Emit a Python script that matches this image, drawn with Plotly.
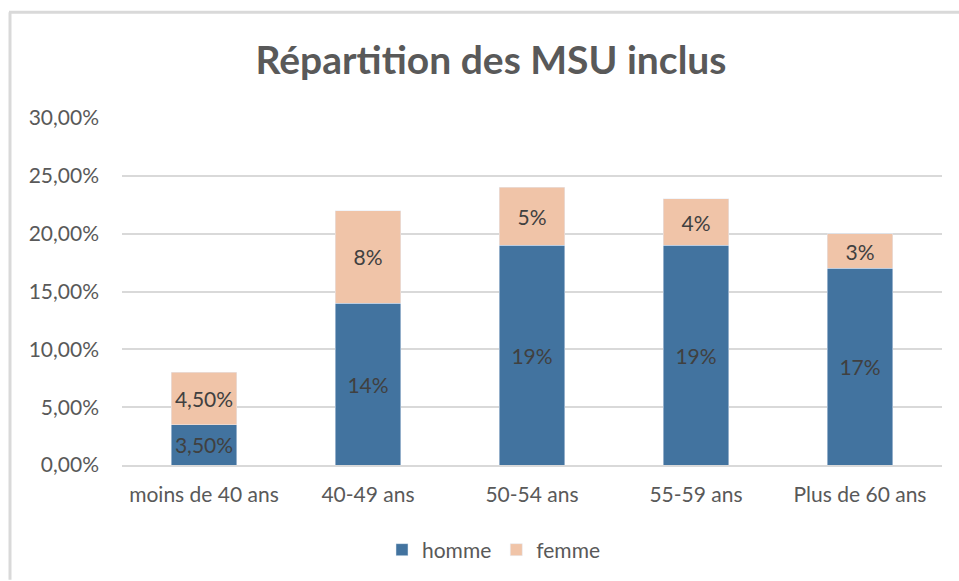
import plotly.graph_objects as go

categories = ["moins de 40 ans", "40-49 ans", "50-54 ans", "55-59 ans", "Plus de 60 ans"]
homme = [0.035, 0.14, 0.19, 0.19, 0.17]
femme = [0.045, 0.08, 0.05, 0.04, 0.03]
homme_labels = ["3,50%", "14%", "19%", "19%", "17%"]
femme_labels = ["4,50%", "8%", "5%", "4%", "3%"]
tick_vals = [0, 0.05, 0.10, 0.15, 0.20, 0.25, 0.30]
tick_text = ["0,00%", "5,00%", "10,00%", "15,00%", "20,00%", "25,00%", "30,00%"]

W, H = 959, 581
L, R, T, B = 122, 17, 118, 115
pw, ph = W - L - R, H - T - B


def px(x):
    return (x - L) / pw


def py(y):
    return (H - B - y) / ph


font = "Lato"
fig = go.Figure()
fig.add_trace(go.Bar(
    x=categories, y=homme, name="homme", text=homme_labels,
    marker=dict(color="#42739F"), textposition="inside",
    insidetextanchor="middle", constraintext="none",
    textfont=dict(size=21, color="#404040", family=font),
))
fig.add_trace(go.Bar(
    x=categories, y=femme, name="femme", text=femme_labels,
    marker=dict(color="#F0C4A8"), textposition="inside",
    insidetextanchor="middle", constraintext="none",
    textfont=dict(size=21, color="#404040", family=font),
))

fig.update_layout(
    barmode="stack",
    bargap=0.6,
    width=W, height=H,
    margin=dict(l=L, r=R, t=T, b=B),
    paper_bgcolor="white", plot_bgcolor="white",
    font=dict(family=font, color="#595959", size=21),
    title=dict(text="<b>Répartition des MSU inclus</b>", x=491 / W, xanchor="center",
               y=1 - 60 / H, yanchor="middle",
               font=dict(size=39, color="#595959", family=font)),
    xaxis=dict(showgrid=False, showline=True, linecolor="#D9D9D9", linewidth=2,
               ticks="", ticklabelstandoff=10,
               tickfont=dict(size=21, color="#595959")),
    yaxis=dict(range=[0, 0.30], tickvals=tick_vals, ticktext=tick_text,
               showgrid=True, gridcolor="#D9D9D9", gridwidth=2,
               zeroline=False, ticks="", ticklabelstandoff=22,
               tickfont=dict(size=21, color="#595959")),
    legend=dict(orientation="h", x=px(494), xanchor="center", y=py(550),
                yanchor="middle", font=dict(size=21, color="#595959"),
                traceorder="normal", itemwidth=30),
    shapes=[
        dict(type="line", xref="paper", yref="paper", x0=px(9), x1=px(W),
             y0=py(12), y1=py(12), line=dict(color="#D9D9D9", width=3)),
        dict(type="line", xref="paper", yref="paper", x0=px(10), x1=px(10),
             y0=py(12), y1=py(H), line=dict(color="#D9D9D9", width=3)),
    ],
)

fig.write_html("out.html", config={"displayModeBar": False},
               post_script="document.body.style.margin='0';")
